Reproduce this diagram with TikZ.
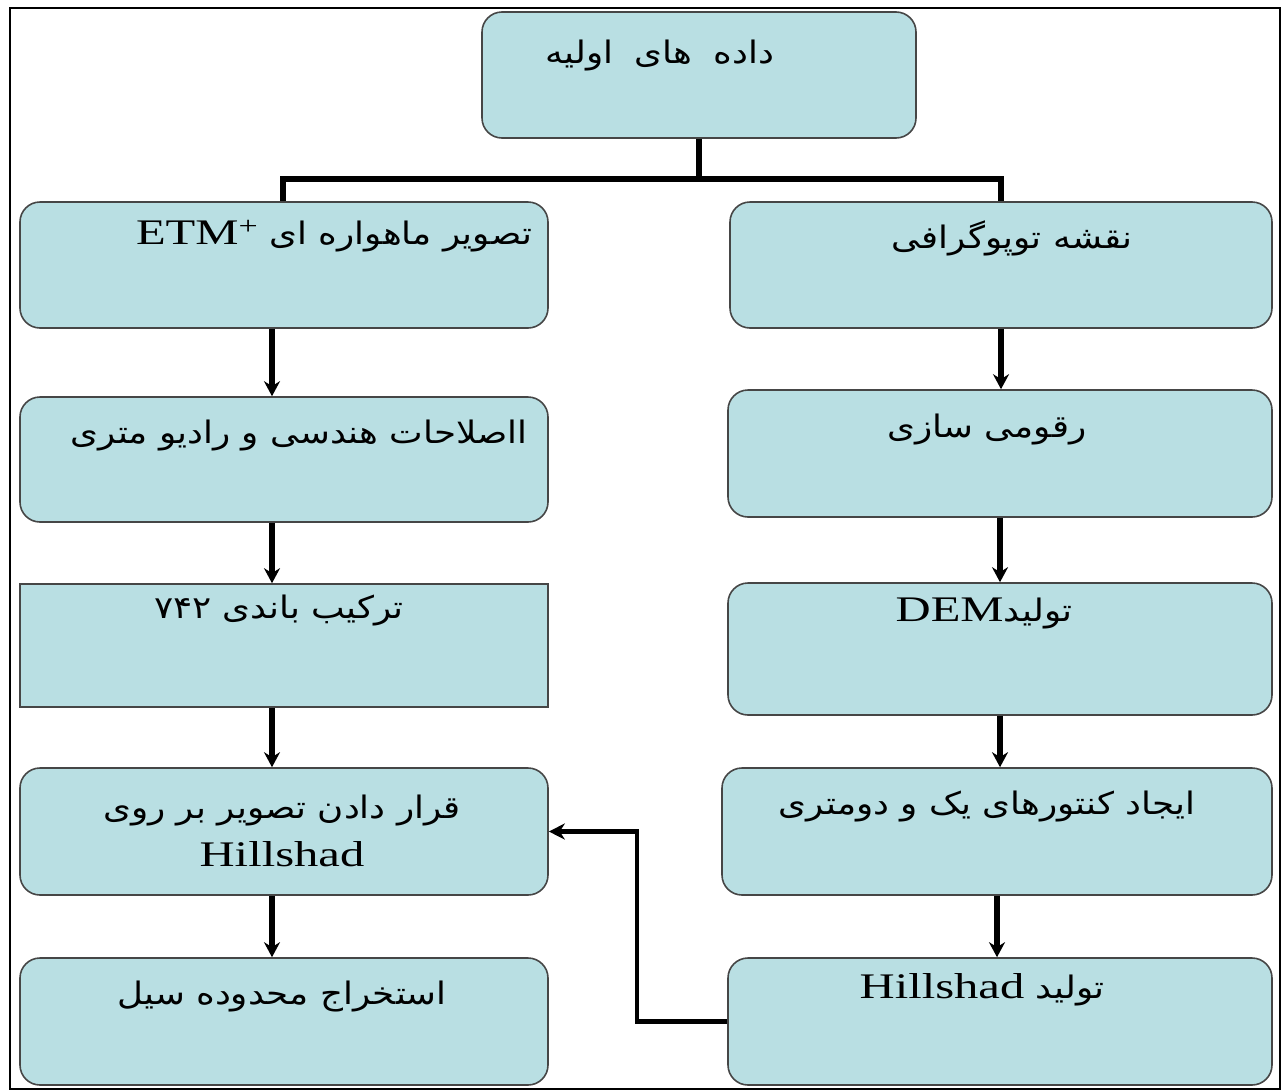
\documentclass[tikz,border=0pt]{standalone}
\usepackage{fontspec}
\usetikzlibrary{arrows.meta}
\TeXXeTstate=1
\newfontfamily\fa[Script=Arabic,FakeStretch=1.15]{DejaVu Sans}
\newfontfamily\lat[FakeStretch=1.35]{Liberation Serif}
\definecolor{boxfill}{RGB}{185,223,227}
\definecolor{boxline}{RGB}{70,70,70}
\newcommand{\latx}[1]{{\lat\fontsize{36}{40}\selectfont #1}}
\tikzset{
  box/.style={draw=boxline, fill=boxfill, line width=1.6pt, rounded corners=20pt, inner sep=0pt},
  sqbox/.style={draw=boxline, fill=boxfill, line width=1.6pt, sharp corners, inner sep=0pt},
  txt/.style={inner sep=0pt, font=\fa\fontsize{31}{40}\selectfont, align=center},
  conn/.style={line width=5.5pt, draw=black},
  arr/.style={conn, -{Stealth[length=15pt,width=16pt]}},
  fb/.style={line width=4.5pt, draw=black, -{Stealth[length=16pt,width=16pt,inset=5pt]}}
}
\begin{document}
\begin{tikzpicture}[x=1pt,y=-1pt]
\useasboundingbox (0,0) rectangle (1282,1090);
\draw[line width=1.2pt] (10,8) rectangle (1280,1089);
% boxes
\node[box, minimum width=434pt, minimum height=126pt] (top) at (699,75) {};
\node[box, minimum width=528pt, minimum height=126pt] (b1) at (284,265) {};
\node[box, minimum width=528pt, minimum height=125pt] (b2) at (284,459.5) {};
\node[sqbox, minimum width=528pt, minimum height=123pt] (b3) at (284,645.5) {};
\node[box, minimum width=528pt, minimum height=127pt] (b4) at (284,831.5) {};
\node[box, minimum width=528pt, minimum height=127pt] (b5) at (284,1021.5) {};
\node[box, minimum width=542pt, minimum height=126pt] (r1) at (1001,265) {};
\node[box, minimum width=544pt, minimum height=127pt] (r2) at (1000,453.5) {};
\node[box, minimum width=544pt, minimum height=132pt] (r3) at (1000,649) {};
\node[box, minimum width=550pt, minimum height=127pt] (r4) at (997,831.5) {};
\node[box, minimum width=544pt, minimum height=127pt] (r5) at (1000,1021.5) {};
% texts
\node[txt] (t0) at (660,56) {\beginR داده\hspace{10pt} های\hspace{10pt} اولیه\endR};
\node[txt] (t1) at (334,236) {\beginR تصویر ماهواره ای \beginL\latx{ETM\textsuperscript{+}}\endL\endR};
\node[txt] (t2) at (299,435) {\beginR ااصلاحات هندسی  و رادیو متری\endR};
\node[txt] (t3) at (279,610) {\beginR ترکیب باندی ۷۴۲\endR};
\node[txt] (t4) at (282,831) {\beginR قرار دادن تصویر بر روی\endR\\[8pt]\latx{Hillshad}};
\node[txt] (t5) at (282,996) {\beginR استخراج محدوده سیل\endR};
\node[txt] (s1) at (1012,238) {\beginR نقشه توپوگرافی\endR};
\node[txt] (s2) at (987,430) {\beginR رقومی سازی\endR};
\node[txt] (s3) at (984,613) {\beginR تولید\beginL\latx{DEM}\endL\endR};
\node[txt] (s4) at (987,806) {\beginR ایجاد کنتورهای یک و دومتری\endR};
\node[txt] (s5) at (982,990) {\beginR تولید \beginL\latx{Hillshad}\endL\endR};
% connectors
\draw[conn] (top.south) -- ++(0,40) coordinate (split) -| ([xshift=-1pt]b1.north);
\draw[conn] (split) -| (r1.north);
\draw[arr] ([xshift=-12pt]b1.south) -- ([xshift=-12pt]b2.north);
\draw[arr] ([xshift=-12pt]b2.south) -- ([xshift=-12pt]b3.north);
\draw[arr] ([xshift=-12pt]b3.south) -- ([xshift=-12pt]b4.north);
\draw[arr] ([xshift=-12pt]b4.south) -- ([xshift=-12pt]b5.north);
\draw[arr] (r1.south) -- (r1.south |- r2.north);
\draw[arr] (r2.south) -- (r2.south |- r3.north);
\draw[arr] (r3.south) -- (r3.south |- r4.north);
\draw[arr] (r4.south) -- (r4.south |- r5.north);
\draw[fb] (r5.west) -- ++(-90,0) coordinate (bend) |- (b4.east);
\end{tikzpicture}
\end{document}
